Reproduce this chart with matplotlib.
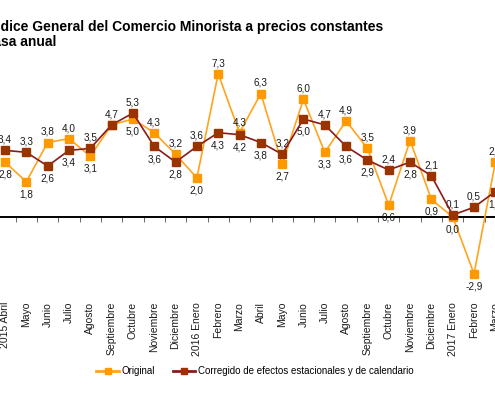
import matplotlib
matplotlib.use("Agg")
import matplotlib.pyplot as plt
from matplotlib.lines import Line2D
import matplotlib.transforms as mtransforms

plt.rcParams['font.family'] = ['Liberation Sans', 'DejaVu Sans']

categories = ["2015 Abril", "Mayo", "Junio", "Julio", "Agosto", "Septiembre", "Octubre",
              "Noviembre", "Diciembre", "2016 Enero", "Febrero", "Marzo", "Abril", "Mayo",
              "Junio", "Julio", "Agosto", "Septiembre", "Octubre", "Noviembre", "Diciembre",
              "2017 Enero", "Febrero", "Marzo"]
original = [2.8, 1.8, 3.8, 4.0, 3.1, 4.7, 5.0, 4.3, 3.2, 2.0, 7.3, 4.3, 6.3, 2.7,
            6.0, 3.3, 4.9, 3.5, 0.6, 3.9, 0.9, 0.0, -2.9, 2.8]
corregido = [3.4, 3.3, 2.6, 3.4, 3.5, 4.7, 5.3, 3.6, 2.8, 3.6, 4.3, 4.2, 3.8, 3.2,
             5.0, 4.7, 3.6, 2.9, 2.4, 2.8, 2.1, 0.1, 0.5, 1.3]
# label placement: 'a' above, 'b' below, None = no label
orig_pos = ['b', 'b', 'a', 'a', 'b', None, 'b', 'a', 'a', 'b', 'a', 'a', 'a', 'b',
            'a', 'b', 'a', 'a', 'b', 'a', 'b', 'b', 'b', 'a']
corr_pos = ['a', 'a', 'b', 'b', 'a', 'a', 'a', 'b', 'b', 'a', 'b', 'b', 'b', 'a',
            'b', 'a', 'b', 'b', 'a', 'b', 'a', 'a', 'a', 'b']
title_line1 = "Índice General del Comercio Minorista a precios constantes"
title_line2 = "Tasa anual"
legend_labels = ["Original", "Corregido de efectos estacionales y de calendario"]

ORANGE_M = '#FF9900'
ORANGE_L = '#FFA41C'
MAROON_M = '#993300'
MAROON_L = '#8B1A1A'

W, H = 495, 394
fig = plt.figure(figsize=(W / 100, H / 100), dpi=100)

# axes in pixel geometry
top_px, bot_px = 60, 298
ax = fig.add_axes([0, (H - bot_px) / H, 1, (bot_px - top_px) / H])

for s in ['top', 'right', 'left']:
    ax.spines[s].set_visible(False)
ax.spines['bottom'].set_position(('data', 0))
ax.spines['bottom'].set_linewidth(1.4)
ax.spines['bottom'].set_color('black')
ax.set_yticks([])
xs = list(range(len(categories)))
ax.set_xticks(xs)
ax.set_xticklabels([])
ax.tick_params(axis='x', which='major', length=0)
ax.set_xticks([i + 0.5 for i in range(-1, len(categories))], minor=True)
ax.tick_params(axis='x', which='minor', length=3.5, width=0.7, color='#666666', direction='out')
ax.patch.set_alpha(0)

step = 21.32
x0 = 5
ax.set_xlim(-x0 / step, (W - x0) / step)
zero_px, per_unit = 217, 19.6
ax.set_ylim(-(bot_px - zero_px) / per_unit, (zero_px - top_px) / per_unit)

ax.plot(xs, original, color=ORANGE_L, lw=1.2, marker='s', ms=5.2,
        mfc=ORANGE_M, mec=ORANGE_M, zorder=3, clip_on=False)
ax.plot(xs, corregido, color=MAROON_L, lw=1.2, marker='s', ms=5.2,
        mfc=MAROON_M, mec=MAROON_M, zorder=4, clip_on=False)

def fmt(v):
    return f"{v:.1f}".replace('.', ',')

for series, pos in ((original, orig_pos), (corregido, corr_pos)):
    for i, (v, p) in enumerate(zip(series, pos)):
        if p is None:
            continue
        if p == 'a':
            ax.annotate(fmt(v), (i, v), xytext=(0, 4), textcoords='offset points',
                        ha='center', va='bottom', fontsize=7.2, color='#1a1a1a',
                        annotation_clip=False)
        else:
            ax.annotate(fmt(v), (i, v), xytext=(0, -5.5), textcoords='offset points',
                        ha='center', va='top', fontsize=7.2, color='#1a1a1a',
                        annotation_clip=False)

# category labels at the bottom of the plot area
lab_trans = mtransforms.blended_transform_factory(ax.transData, ax.transAxes) + \
    mtransforms.ScaledTranslation(0, -4 / 100, fig.dpi_scale_trans)
for i, c in enumerate(categories):
    ax.text(i, 0, c, transform=lab_trans, rotation=90, ha='center', va='top',
            fontsize=7.5, color='#1a1a1a', rotation_mode='default')

# title (cropped at left edge)
fig.canvas.draw()
renderer = fig.canvas.get_renderer()
tmp1 = fig.text(0, 0, "Ín", fontsize=10, fontweight='bold')
tmp2 = fig.text(0, 0, "Ta", fontsize=10, fontweight='bold')
w1 = tmp1.get_window_extent(renderer).width
w2 = tmp2.get_window_extent(renderer).width
tmp1.remove(); tmp2.remove()
fig.text((1 - w1) / W, (H - 31) / H, title_line1, fontsize=10, fontweight='bold',
         ha='left', va='baseline', color='black')
fig.text((1 - w2) / W, (H - 46) / H, title_line2, fontsize=10, fontweight='bold',
         ha='left', va='baseline', color='black')

handles = [Line2D([], [], color=ORANGE_L, lw=2, marker='s', ms=5, mfc=ORANGE_M, mec=ORANGE_M),
           Line2D([], [], color=MAROON_L, lw=2, marker='s', ms=5, mfc=MAROON_M, mec=MAROON_M)]
fig.legend(handles, legend_labels, loc='center', bbox_to_anchor=(255 / W, (H - 371) / H),
           ncol=2, frameon=False, fontsize=7.0, handlelength=2.3, handletextpad=0.3,
           columnspacing=1.8, borderpad=0)

fig.savefig('out.png', dpi=100)
